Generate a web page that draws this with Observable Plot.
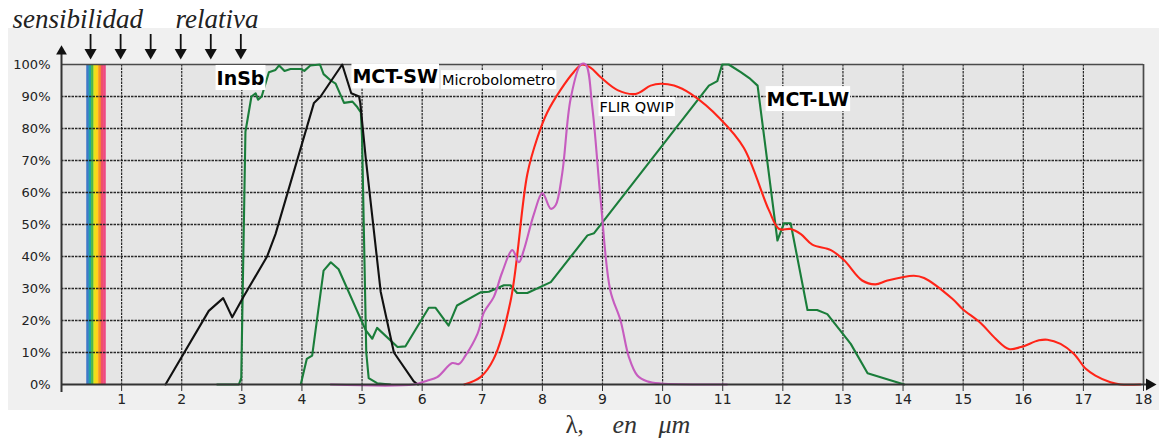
<!DOCTYPE html>
<html><head><meta charset="utf-8">
<script src="https://cdn.jsdelivr.net/npm/d3@7"></script>
<script src="https://cdn.jsdelivr.net/npm/@observablehq/plot@0.6"></script>
<style>body{margin:0;background:#fff}</style>
</head><body><div id="chart"></div>
<script>
// ---- tick labels ----
const wavelengthTicks = [1,2,3,4,5,6,7,8,9,10,11,12,13,14,15,16,17,18];
const percentTicks = [0,10,20,30,40,50,60,70,80,90,100];
const gridX = [1,2,3,4,5,6,7,8,9,10,11,12,13,14,15,16,17];
const gridY = [10,20,30,40,50,60,70,80,90];

// ---- visible spectrum band (µm) and its colours ----
const visibleRange = [0.42, 0.74];
const visibleColors = ["#3f78c8","#1fa3a6","#4db848","#e8e21a","#ffd21a","#f7941d","#f0506a","#ee4a82"];

// ---- downward arrows positions (µm) ----
const arrowX = [0.5, 1, 1.5, 2, 2.5, 3];

// ---- series: MCT-SW (black) ----
const mctSwX = [1.73,2.45,2.69,2.84,3.03,3.42,3.56,4.2,4.31,4.67,4.82,4.95,4.97,5.06,5.31,5.53,5.86,5.93];
const mctSwY = [0,23,27,21,27.5,40,47,88,90,100,91,90,88,71,29,10,1,0];

// ---- series: InSb (green) ----
const insbX = [2.59,2.95,2.99,3.06,3.16,3.23,3.27,3.33,3.45,3.56,3.62,3.71,3.81,3.98,4.04,4.14,4.3,4.36,4.48,4.56,4.7,4.84,4.92,4.98,5.0,5.07,5.11,5.25,5.47];
const insbY = [0,0,2,79,90,91,89,90,97.6,98.3,99.7,98,98.6,98.6,98,99.7,100,97,95,94,88,88.4,86.7,85,77,10,2,0.4,0];

// ---- series: MCT-LW (green) ----
const mctLwX = [3.98,4.08,4.17,4.36,4.48,4.61,5.06,5.17,5.25,5.59,5.72,6.11,6.22,6.44,6.58,6.97,7.11,7.36,7.47,7.58,7.75,8.14,8.75,8.86,10.77,10.91,10.99,11.1,11.3,11.46,11.58,11.91,12.02,12.13,12.41,12.57,12.74,13.13,13.41,14.02];
const mctLwY = [0,8,9,35.6,38.2,36,17,14.3,17.7,11.7,11.9,24,24,18.4,24.7,28.8,29,31,31,28.6,28.6,32,46.6,47.3,93.4,94.8,100,100,97.6,95.5,93.4,45,50.4,50.4,23.3,23.3,22,12.7,3.5,0];

// ---- series: Microbolometro (red) ----
const microX = [6.7,6.97,7.19,7.47,7.75,7.92,8.08,8.3,8.52,8.66,8.8,8.97,9.25,9.55,9.8,9.97,10.19,10.47,10.96,11.35,11.77,11.94,12.13,12.3,12.49,12.8,13.02,13.32,13.54,13.74,14.18,14.35,14.82,14.99,15.29,15.54,15.76,15.96,16.26,16.4,16.62,16.84,17.04,17.2,17.45,17.62,17.95];
const microY = [0,2.3,8,26,65.8,77.3,85,92,97.6,100,99,96,92,90.8,93.4,94,93.4,90.8,83,74,54.4,48.6,48.6,47,43.7,42,38.8,32.5,31.3,32.5,34,33.3,26.8,23.6,19.2,14.3,11.1,11.7,13.8,14,12.7,9.6,4.9,2.8,0.7,0,0];

// ---- series: FLIR QWIP (magenta) ----
const qwipX = [4.48,5.86,6.08,6.25,6.5,6.61,6.72,6.92,7.03,7.19,7.33,7.5,7.61,7.69,7.86,8.0,8.14,8.22,8.33,8.47,8.64,8.72,8.83,8.97,9.13,9.3,9.44,9.58,9.74,9.97,11.07];
const qwipY = [0,0,1.2,2.3,6.7,6.4,9,15.8,22.6,27.3,35,42,38.2,41.9,53.3,59.8,54.9,56,66,89.3,100,100,86.7,57.5,29.4,20,8.5,2.8,1,0.3,0];

// ---- annotation labels ----
const labelNames = ["InSb","MCT-SW","Microbolometro","FLIR QWIP","MCT-LW"];
const labelX = [2.58,4.84,6.33,8.95,11.73];
const labelY = [95.5,96,95,86.6,88.9];
const labelBig = [true,true,false,false,true];

const green = "#1a7d3a";
const series = [
  {xs: insbX, ys: insbY, color: green, curve: "linear"},
  {xs: mctLwX, ys: mctLwY, color: green, curve: "linear"},
  {xs: mctSwX, ys: mctSwY, color: "#111111", curve: "linear"},
  {xs: microX, ys: microY, color: "#ff2418", curve: "catmull-rom"},
  {xs: qwipX, ys: qwipY, color: "#c65cbf", curve: "catmull-rom"}
];
const toRows = s => s.xs.map((x, i) => ({x, y: s.ys[i]}));

const stripeW = (visibleRange[1] - visibleRange[0]) / visibleColors.length;
const stripes = visibleColors.map((c, i) => ({x1: visibleRange[0] + i * stripeW, x2: visibleRange[0] + (i + 1) * stripeW + 0.005, c}));

const labels = labelNames.map((t, i) => ({t, x: labelX[i], y: labelY[i], big: labelBig[i]}));

const gridStyle = {stroke: "#1e1e1e", strokeDasharray: "2.5,1"};

const chart = Plot.plot({
  width: 1159, height: 439,
  marginLeft: 61, marginRight: 16, marginTop: 64, marginBottom: 55,
  style: {fontFamily: "DejaVu Sans", background: "transparent", color: "#222"},
  x: {domain: [0, 18], label: null},
  y: {domain: [0, 100], label: null},
  marks: [
    Plot.frame({fill: "#e5e5e5", stroke: null}),
    ...stripes.map(s => Plot.rect([s], {x1: "x1", x2: "x2", y1: 0, y2: 100, fill: s.c})),
    Plot.ruleX(gridX, {...gridStyle, strokeWidth: 1.2, strokeOpacity: 0.95}),
    Plot.ruleY(gridY, {...gridStyle, strokeWidth: 1.7, strokeOpacity: 0.95}),
    Plot.ruleY([100], {stroke: "#4a4a4a", strokeWidth: 1.7}),
    Plot.ruleX([18], {stroke: "#4a4a4a", strokeWidth: 1.7}),
    ...series.map(s => Plot.line(toRows(s), {x: "x", y: "y", stroke: s.color, strokeWidth: 2.1, curve: s.curve})),
    Plot.axisY({ticks: percentTicks, tickFormat: d => d + "%", tickSize: 0, tickPadding: 11, fontSize: 13}),
    Plot.axisX({ticks: wavelengthTicks, tickFormat: d => String(d), tickSize: 7, tickPadding: 3, fontSize: 14, stroke: "#333"}),
    // axis lines with arrowheads
    Plot.ruleX([0], {stroke: "#333", strokeWidth: 2, insetTop: -12, insetBottom: -8}),
    Plot.ruleY([0], {stroke: "#333", strokeWidth: 2, insetRight: -6}),
    Plot.dot([null], {frameAnchor: "top-left", dy: -13, symbol: "triangle", r: 4, fill: "#111", stroke: null}),
    Plot.dot([null], {frameAnchor: "bottom-right", dx: 6, symbol: "triangle", rotate: 90, r: 4.5, fill: "#111", stroke: null}),
    // downward arrows
    Plot.ruleX(arrowX, {dx: -1, stroke: "#111", strokeWidth: 1.8, insetTop: -30, insetBottom: 334}),
    Plot.dot(arrowX, {x: d => d, frameAnchor: "top", dx: -1, dy: -12, symbol: "triangle", rotate: 180, r: 4.5, fill: "#111", stroke: null}),
    // title & x label
    Plot.text(["sensibilidad\u2003\u2009relativa"], {frameAnchor: "top-left", dx: -49, dy: -37, textAnchor: "start", lineAnchor: "bottom", fontSize: 27, fontStyle: "italic", fontFamily: "Liberation Serif", fill: "#222", letterSpacing: "0.6px"}),
    Plot.text(["λ,"], {frameAnchor: "bottom-left", dx: 504, dy: 48, textAnchor: "start", lineAnchor: "bottom", fontSize: 25, fontFamily: "Liberation Serif", fill: "#333"}),
    Plot.text(["en"], {frameAnchor: "bottom-left", dx: 551, dy: 48, textAnchor: "start", lineAnchor: "bottom", fontSize: 26, fontStyle: "italic", fontFamily: "Liberation Serif", fill: "#333"}),
    Plot.text(["μm"], {frameAnchor: "bottom-left", dx: 597, dy: 48, textAnchor: "start", lineAnchor: "bottom", fontSize: 26, fontStyle: "italic", fontFamily: "Liberation Serif", fill: "#333", letterSpacing: "3px"}),
    // series labels
    Plot.text(labels.filter(d => d.big), {x: "x", y: "y", text: "t", textAnchor: "start", lineAnchor: "middle", fontSize: 19, fontWeight: "bold", fill: "#000", className: "lbl"}),
    Plot.text(labels.filter(d => !d.big), {x: "x", y: "y", text: "t", textAnchor: "start", lineAnchor: "middle", fontSize: 14.5, fill: "#000", className: "lbl"})
  ]
});

document.getElementById("chart").appendChild(chart);
const ns = "http://www.w3.org/2000/svg";
// outer light panel
const panel = document.createElementNS(ns, "rect");
panel.setAttribute("x", 8); panel.setAttribute("y", 28);
panel.setAttribute("width", 1151); panel.setAttribute("height", 382);
panel.setAttribute("fill", "#f0f0f0");
chart.insertBefore(panel, chart.querySelector("style") ? chart.querySelector("style").nextSibling : chart.firstChild);
// white boxes behind labels
chart.querySelectorAll(".lbl text").forEach(t => {
  const b = t.getBBox();
  const r = document.createElementNS(ns, "rect");
  r.setAttribute("x", b.x - 1); r.setAttribute("y", b.y - 2);
  r.setAttribute("width", b.width + 2); r.setAttribute("height", b.height + 3);
  r.setAttribute("fill", "#fff");
  if (t.getAttribute("transform")) r.setAttribute("transform", t.getAttribute("transform"));
  t.parentNode.insertBefore(r, t);
});
</script>
</body></html>
